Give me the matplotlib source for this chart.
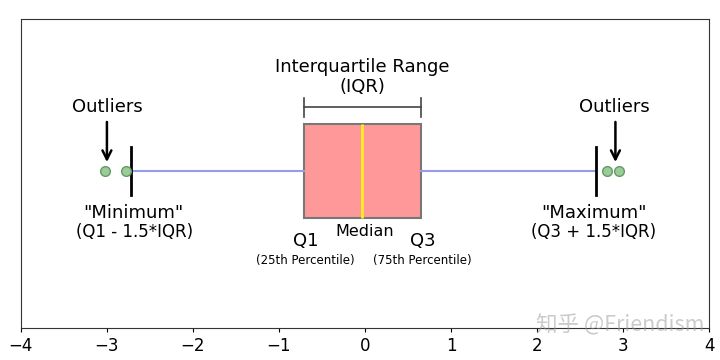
import matplotlib
matplotlib.use('Agg')
import matplotlib.pyplot as plt

# box plot summary values
q1 = -0.71
median = -0.035
q3 = 0.65
whisker_lo = -2.72
whisker_hi = 2.69
outliers_lo = [-3.02, -2.78]
outliers_hi = [2.81, 2.95]
xticks = [-4, -3, -2, -1, 0, 1, 2, 3, 4]

stats = [dict(q1=q1, med=median, q3=q3, whislo=whisker_lo, whishi=whisker_hi,
              fliers=outliers_lo + outliers_hi)]

fig = plt.figure(figsize=(7.2, 3.6), dpi=100)
ax = fig.add_axes([0.029, 0.089, 0.956, 0.858])

ax.bxp(stats, positions=[1], widths=0.608, capwidths=0.31, vert=False, patch_artist=True,
       boxprops=dict(facecolor='#ff9999', edgecolor='#777777', linewidth=1.5),
       medianprops=dict(color='#ffee22', linewidth=2),
       whiskerprops=dict(color='#9999ee', linewidth=1.5),
       capprops=dict(color='black', linewidth=2),
       flierprops=dict(marker='o', markersize=7, markerfacecolor='#99cc99',
                       markeredgecolor='#669966', linestyle='none'))

ax.set_xlim(-4, 4)
ax.set_ylim(-0.016, 1.984)
ax.set_xticks(xticks)
ax.set_yticks([])
ax.tick_params(axis='x', labelsize=12, length=3)
for s in ax.spines.values():
    s.set_color('#333333')

tr = ax.get_xaxis_transform()
fs = 13

# IQR label and bracket
ax.text((q1 + q3) / 2, 0.845, 'Interquartile Range', transform=tr, ha='center', va='center', fontsize=fs)
ax.text((q1 + q3) / 2, 0.780, '(IQR)', transform=tr, ha='center', va='center', fontsize=fs)
ax.plot([q1, q3], [0.715, 0.715], transform=tr, color='#444444', lw=1.2)
ax.plot([q1, q1], [0.683, 0.744], transform=tr, color='#444444', lw=1.2)
ax.plot([q3, q3], [0.683, 0.744], transform=tr, color='#444444', lw=1.2)

# outlier labels with arrows
ax.text(outliers_lo[0] + 0.02, 0.715, 'Outliers', transform=tr, ha='center', va='center', fontsize=fs)
ax.text(outliers_hi[1] - 0.05, 0.715, 'Outliers', transform=tr, ha='center', va='center', fontsize=fs)
ax.annotate('', xy=(outliers_lo[0] + 0.02, 0.537), xytext=(outliers_lo[0] + 0.02, 0.667),
            xycoords=tr, textcoords=tr,
            arrowprops=dict(arrowstyle='->', lw=1.8, color='black', mutation_scale=16, shrinkA=0, shrinkB=0))
ax.annotate('', xy=(outliers_hi[1] - 0.04, 0.537), xytext=(outliers_hi[1] - 0.04, 0.667),
            xycoords=tr, textcoords=tr,
            arrowprops=dict(arrowstyle='->', lw=1.8, color='black', mutation_scale=16, shrinkA=0, shrinkB=0))

# minimum / maximum
ax.text(whisker_lo + 0.03, 0.372, '"Minimum"', transform=tr, ha='center', va='center', fontsize=fs)
ax.text(whisker_lo + 0.04, 0.311, '(Q1 - 1.5*IQR)', transform=tr, ha='center', va='center', fontsize=fs - 1)
ax.text(whisker_hi - 0.03, 0.372, '"Maximum"', transform=tr, ha='center', va='center', fontsize=fs)
ax.text(whisker_hi - 0.03, 0.311, '(Q3 + 1.5*IQR)', transform=tr, ha='center', va='center', fontsize=fs - 1)

# quartile labels
ax.text(q1 + 0.02, 0.282, 'Q1', transform=tr, ha='center', va='center', fontsize=fs)
ax.text(q3 + 0.02, 0.282, 'Q3', transform=tr, ha='center', va='center', fontsize=fs)
ax.text(median + 0.03, 0.311, 'Median', transform=tr, ha='center', va='center', fontsize=11.5)
ax.text(q1 + 0.02, 0.220, '(25th Percentile)', transform=tr, ha='center', va='center', fontsize=8.5)
ax.text(q3 + 0.02, 0.220, '(75th Percentile)', transform=tr, ha='center', va='center', fontsize=8.5)

# watermark
fig.text(0.979, 0.097, '知乎 @Friendism', ha='right', va='center', fontsize=15.5,
         color='#999999', alpha=0.5, fontweight='light', family=['Noto Sans CJK SC', 'DejaVu Sans'])

fig.savefig('out.png', dpi=100)
